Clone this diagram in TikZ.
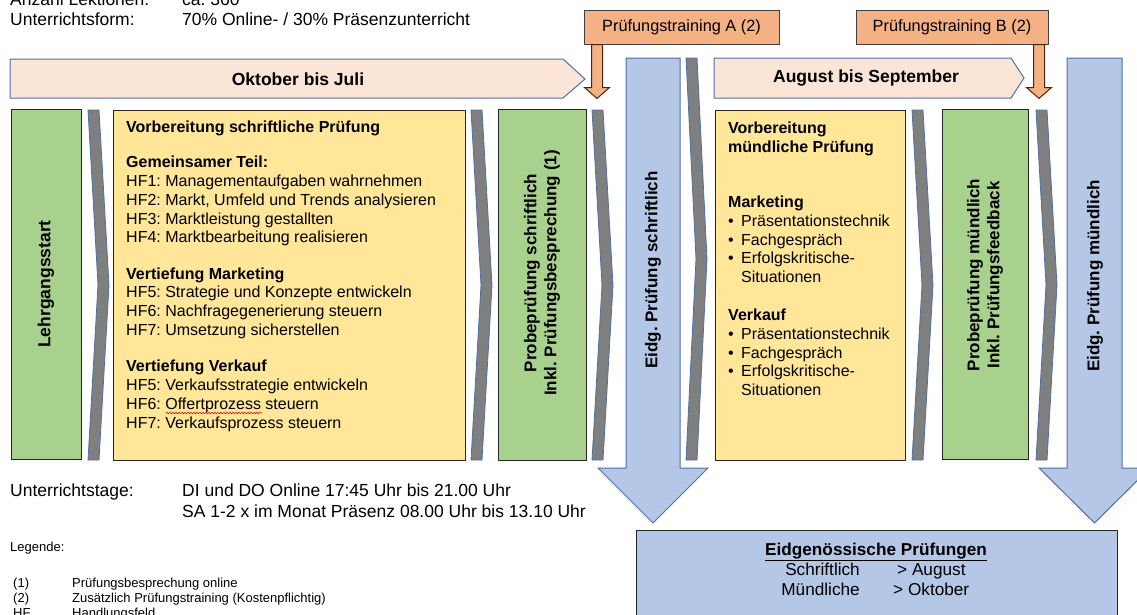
\documentclass[tikz,border=0pt]{standalone}
\usepackage{fontspec}
\setmainfont{Liberation Sans}[Ligatures=NoCommon]
\usepackage{xcolor}
\usetikzlibrary{positioning,decorations.pathmorphing}

\definecolor{grn}{HTML}{A9D18E}
\definecolor{ylw}{HTML}{FFE699}
\definecolor{blu}{HTML}{B4C7E7}
\definecolor{peach}{HTML}{FBE5D6}
\definecolor{orng}{HTML}{F4B183}
\definecolor{edge}{HTML}{4F6FA8}
\definecolor{chevgrey}{HTML}{7F7F7F}

\newcommand{\bul}{\makebox[13pt][l]{\textbullet}}
\newcommand{\ind}{\hspace*{13pt}}

\begin{document}
\frenchspacing
\begin{tikzpicture}[x=1pt, y=-1pt,
    every node/.style={inner sep=0pt, font=\fontsize{16}{18.8}\selectfont},
    box/.style={draw=black!85, line width=1pt},
    gbox/.style={box, fill=grn, rotate=90, align=center,
      font=\fontsize{17.5}{20}\selectfont\bfseries},
    gtext/.style={rotate=90, align=center, font=\fontsize{17}{20}\selectfont\bfseries},
    ybox/.style={box, fill=ylw, anchor=north west},
    boxtext/.style={anchor=north west, align=left},
    banner/.style={draw=edge, line width=1pt, fill=peach},
    bannertext/.style={font=\fontsize{17.5}{20}\selectfont\bfseries},
    bigarrow/.style={draw=edge, line width=1pt, fill=blu},
    arrowtext/.style={rotate=90, font=\fontsize{17}{20}\selectfont\bfseries},
    chevron/.style={draw=edge, line width=0.8pt, fill=chevgrey},
    obox/.style={draw=black!75, line width=1pt, fill=orng, font=\fontsize{16.3}{19}\selectfont},
    oarrow/.style={draw=black!70!orange, line width=1pt, fill=orng},
    fedtext/.style={font=\fontsize{17.2}{20}\selectfont},
    lbl/.style={anchor=base west, font=\fontsize{17.5}{21}\selectfont},
    small/.style={anchor=base west, font=\fontsize{13}{15}\selectfont}
  ]
  \useasboundingbox (0,0) rectangle (1137,614);

  % time banners
  \draw[banner] (10,59) -- (563,59) -- (585,79) -- (563,98) -- (10,98) -- cycle;
  \node[bannertext] (okt) at (298,79) {Oktober bis Juli};
  \draw[banner] (714,58) -- (1011,58) -- (1024,78) -- (1011,98) -- (714,98) -- cycle;
  \node[bannertext] (aug) at (866,78) {August bis September};

  % exam arrows
  \draw[bigarrow] (626,58) -- (680,58) -- (680,468) -- (708,468) -- (653,523)
    -- (598,468) -- (626,468) -- cycle;
  \node[arrowtext] (eidgs) at (653,270) {Eidg. Prüfung schriftlich};
  \draw[bigarrow] (1067,58) -- (1122,58) -- (1122,468) -- (1150,468) -- (1094.5,523)
    -- (1039,468) -- (1067,468) -- cycle;
  \node[arrowtext] (eidgm) at (1095,276) {Eidg. Prüfung mündlich};

  % chevrons between the steps
  \foreach \cx/\ct in {88/110, 471/110, 592/110, 686/58, 912/110, 1036/110}
    \draw[chevron] (\cx,\ct) -- ({\cx+11},\ct) -- ({\cx+21},{(\ct+460)/2})
      -- ({\cx+11},460) -- (\cx,460) -- ({\cx+10},{(\ct+460)/2}) -- cycle;

  % steps
  \node[gbox, minimum width=350pt, minimum height=70pt] (start) at (46,284) {Lehrgangsstart};
  \node[ybox, minimum width=352pt, minimum height=350pt] (prepw) at (113,110) {};
  \node[boxtext] (prepwtxt) at ([shift={(13,11)}]prepw.north west)
    {\textbf{Vorbereitung schriftliche Prüfung}\\[16pt]
     \textbf{Gemeinsamer Teil:}\\
     HF1: Managementaufgaben wahrnehmen\\
     HF2: Markt, Umfeld und Trends analysieren\\
     HF3: Marktleistung gestallten\\
     HF4: Marktbearbeitung realisieren\\[17.5pt]
     \textbf{Vertiefung Marketing}\\
     HF5: Strategie und Konzepte entwickeln\\
     HF6: Nachfragegenerierung steuern\\
     HF7: Umsetzung sicherstellen\\[17.5pt]
     \textbf{Vertiefung Verkauf}\\
     HF5: Verkaufsstrategie entwickeln\\
     HF6: Offertprozess steuern\\
     HF7: Verkaufsprozess steuern};
  \draw[red, line width=0.6pt, decorate,
    decoration={snake, amplitude=0.7pt, segment length=3pt}] (166,413) -- (262,413);
  \node[box, fill=grn, anchor=north west, minimum width=88pt, minimum height=351pt] (probew) at (498,109) {};
  \node[gtext] (probewtxt) at (542,273) {Probeprüfung schriftlich\\Inkl. Prüfungsbesprechung (1)};
  \node[ybox, minimum width=190pt, minimum height=350pt] (prepm) at (715,110) {};
  \node[boxtext] (prepmtxt) at ([shift={(13,12)}]prepm.north west)
    {\textbf{Vorbereitung}\\
     \textbf{mündliche Prüfung}\\[36pt]
     \textbf{Marketing}\\
     \bul Präsentationstechnik\\
     \bul Fachgespräch\\
     \bul Erfolgskritische-\\
     \ind Situationen\\[19pt]
     \textbf{Verkauf}\\
     \bul Präsentationstechnik\\
     \bul Fachgespräch\\
     \bul Erfolgskritische-\\
     \ind Situationen};
  \node[box, fill=grn, anchor=north west, minimum width=86pt, minimum height=350pt] (probem) at (942,109) {};
  \node[gtext] (probemtxt) at (985,275) {Probeprüfung mündlich\\Inkl. Prüfungsfeedback};

  % extra trainings
  \node[obox, minimum width=195pt, minimum height=34pt] (trainA) at (681.5,27) {Prüfungstraining A (2)};
  \draw[oarrow] ([xshift=8pt]trainA.south west) -- ++(11,0) -- ++(0,43) -- ++(7,0) -- ++(-12.5,11)
    -- ++(-12.5,-11) -- ++(7,0) -- cycle;
  \node[obox, minimum width=192pt, minimum height=34pt] (trainB) at (952,27) {Prüfungstraining B (2)};
  \draw[oarrow] ([xshift=-15pt]trainB.south east) -- ++(11,0) -- ++(0,43) -- ++(7,0) -- ++(-12.5,11)
    -- ++(-12.5,-11) -- ++(7,0) -- cycle;

  % federal exams
  \node[box, fill=blu, anchor=north west, minimum width=481pt, minimum height=110pt] (fed) at (636,530) {};
  \node[fedtext, anchor=base, font=\fontsize{17.2}{20}\selectfont\bfseries] (fedtitle) at (876,555)
    {\underline{Eidgenössische Prüfungen}};
  \node[fedtext, anchor=base east] (fedw) at (860,575) {Schriftlich};
  \node[fedtext, anchor=base west] (fedwd) at (897,575) {> August};
  \node[fedtext, anchor=base east] (fedm) at (860,595) {Mündliche};
  \node[fedtext, anchor=base west] (fedmd) at (893,595) {> Oktober};

  % general info
  \node[lbl] (lek) at (10,5) {Anzahl Lektionen:};
  \node[lbl] (lekv) at (182,5) {ca. 360};
  \node[lbl] (form) at (10,25) {Unterrichtsform:};
  \node[lbl] (formv) at (182,25) {70\% Online- / 30\% Präsenzunterricht};
  \node[lbl] (tage) at (10,496) {Unterrichtstage:};
  \node[lbl] (tage1) at (182,496) {DI und DO Online 17:45 Uhr bis 21.00 Uhr};
  \node[lbl] (tage2) at (182,517) {SA 1-2 x im Monat Präsenz 08.00 Uhr bis 13.10 Uhr};

  % legend
  \node[small] (leg) at (10,551) {Legende:};
  \node[small] (leg1) at (13,587) {(1)};
  \node[small] (leg1t) at (72,587) {Prüfungsbesprechung online};
  \node[small] (leg2) at (13,602) {(2)};
  \node[small] (leg2t) at (72,602) {Zusätzlich Prüfungstraining (Kostenpflichtig)};
  \node[small] (leg3) at (13,617) {HF};
  \node[small] (leg3t) at (72,617) {Handlungsfeld};
\end{tikzpicture}
\end{document}
